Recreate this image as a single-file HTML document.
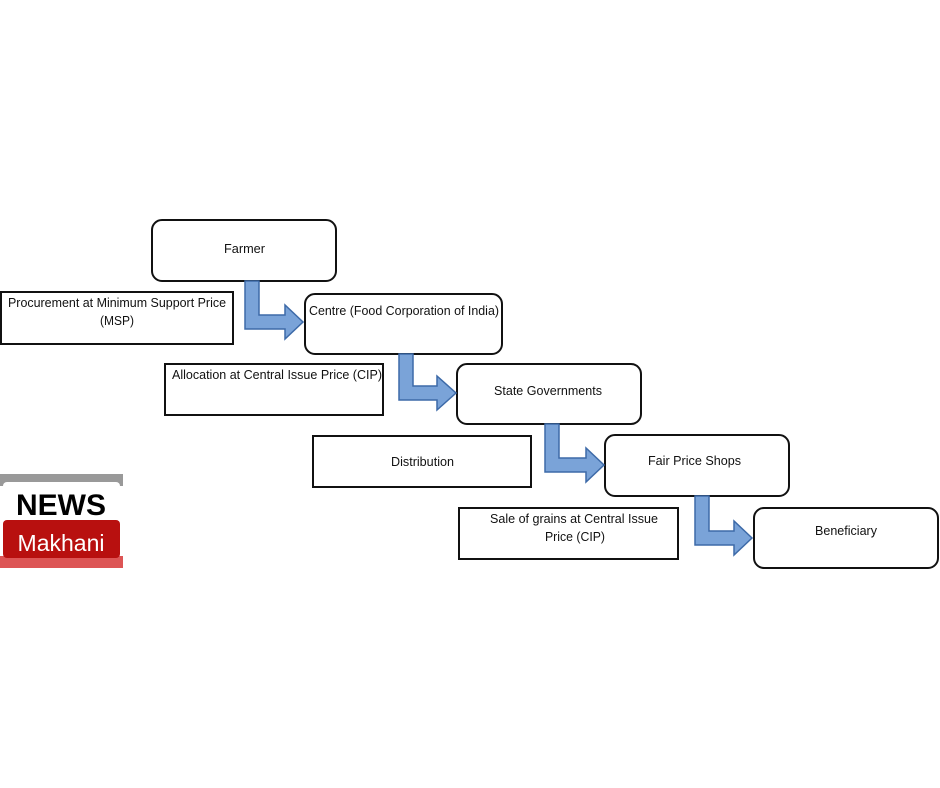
<!DOCTYPE html>
<html><head><meta charset="utf-8"><style>
html,body{margin:0;padding:0;background:#fff;width:940px;height:788px;overflow:hidden}
svg text{font-family:"Liberation Sans",Arial,sans-serif;font-size:13px;fill:#111}
</style></head><body>
<svg width="940" height="788" viewBox="0 0 940 788" xmlns="http://www.w3.org/2000/svg">
<g fill="#fff" stroke="#111" stroke-width="2">
<rect x="152" y="220" width="184" height="61" rx="10"/>
<rect x="1" y="292" width="232" height="52"/>
<rect x="305" y="294" width="197" height="60" rx="10"/>
<rect x="165" y="364" width="218" height="51"/>
<rect x="457" y="364" width="184" height="60" rx="10"/>
<rect x="313" y="436" width="218" height="51"/>
<rect x="605" y="435" width="184" height="61" rx="10"/>
<rect x="459" y="508" width="219" height="51"/>
<rect x="754" y="508" width="184" height="60" rx="10"/>
</g>
<g fill="#7aa3d8" stroke="#3d6aa8" stroke-width="1.5">
<path d="M245,281 H259 V315 H285 V305 L303,322 L285,339 V329 H245 Z"/>
<path d="M399,354 H413 V386 H437 V376 L456,393 L437,410 V400 H399 Z"/>
<path d="M545,424 H559 V458 H586 V448 L604,465 L586,482 V472 H545 Z"/>
<path d="M695,496 H709 V531 H734 V521 L752,538 L734,555 V545 H695 Z"/>
</g>
<text x="224" y="253" textLength="41" lengthAdjust="spacingAndGlyphs">Farmer</text>
<text x="8" y="307" textLength="218" lengthAdjust="spacingAndGlyphs">Procurement at Minimum Support Price</text>
<text x="100" y="325" textLength="34" lengthAdjust="spacingAndGlyphs">(MSP)</text>
<text x="309" y="315" textLength="190" lengthAdjust="spacingAndGlyphs">Centre (Food Corporation of India)</text>
<text x="172" y="379" textLength="210" lengthAdjust="spacingAndGlyphs">Allocation at Central Issue Price (CIP)</text>
<text x="494" y="395" textLength="108" lengthAdjust="spacingAndGlyphs">State Governments</text>
<text x="391" y="466" textLength="63" lengthAdjust="spacingAndGlyphs">Distribution</text>
<text x="648" y="465" textLength="93" lengthAdjust="spacingAndGlyphs">Fair Price Shops</text>
<text x="490" y="523" textLength="168" lengthAdjust="spacingAndGlyphs">Sale of grains at Central Issue</text>
<text x="545" y="541" textLength="60" lengthAdjust="spacingAndGlyphs">Price (CIP)</text>
<text x="815" y="535" textLength="62" lengthAdjust="spacingAndGlyphs">Beneficiary</text>
<rect x="0" y="474" width="123" height="12" fill="#999"/>
<rect x="0" y="556" width="123" height="12" fill="#d55"/>
<rect x="3" y="482" width="117" height="40" rx="4" fill="#fff"/>
<rect x="3" y="520" width="117" height="38" rx="4" fill="#b8100f"/>
<text x="61" y="515" text-anchor="middle" style="font-size:30px;font-weight:bold;fill:#000">NEWS</text>
<text x="61" y="551" text-anchor="middle" style="font-size:23px;fill:#fff">Makhani</text>
</svg>
</body></html>
